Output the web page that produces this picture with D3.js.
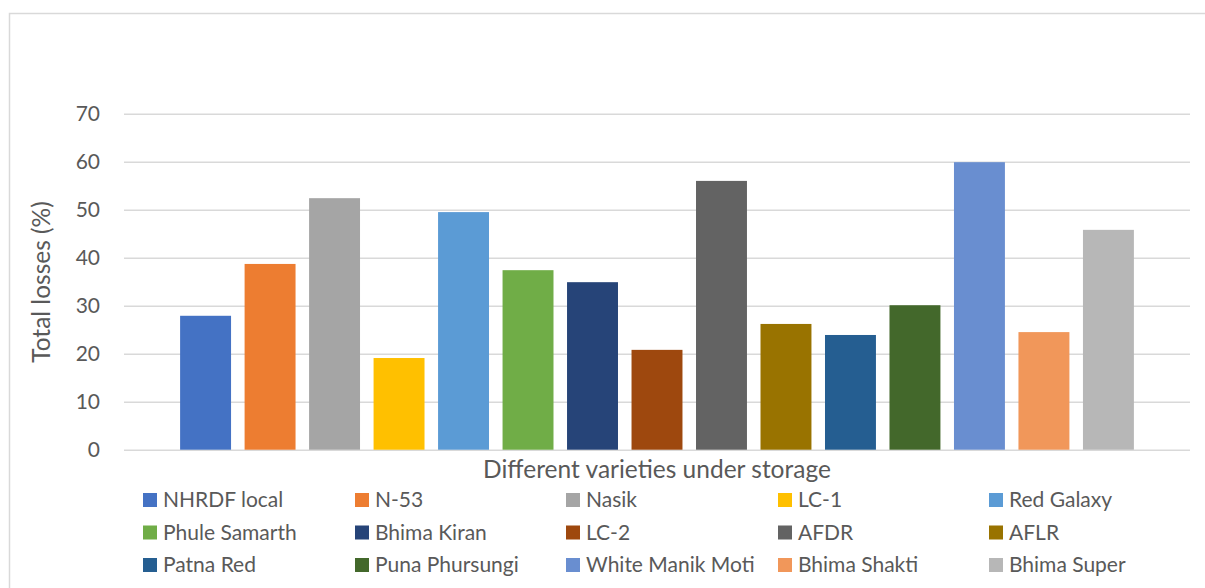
<!DOCTYPE html>
<html>
<head>
<meta charset="utf-8">
<script src="https://cdn.jsdelivr.net/npm/d3@7"></script>
<style>
  html, body { margin: 0; padding: 0; background: #fff; }
  text { font-family: Lato, "Open Sans", sans-serif; fill: #595959; }
</style>
</head>
<body>
<svg id="main-svg"></svg>
<script>
const varieties = ["NHRDF local", "N-53", "Nasik", "LC-1", "Red Galaxy",
  "Phule Samarth", "Bhima Kiran", "LC-2", "AFDR", "AFLR",
  "Patna Red", "Puna Phursungi", "White Manik Moti", "Bhima Shakti", "Bhima Super"];
const losses = [27.9, 38.7, 52.4, 19.1, 49.5, 37.4, 34.9, 20.8, 56.0, 26.2, 23.9, 30.1, 59.9, 24.5, 45.8];
const colors = ["#4472C4", "#ED7D31", "#A5A5A5", "#FFC000", "#5B9BD5",
  "#70AD47", "#264478", "#9E480E", "#636363", "#997300",
  "#255E91", "#43682B", "#698ED0", "#F1975A", "#B7B7B7"];
const yTicks = [0, 10, 20, 30, 40, 50, 60, 70];

let width = 1205, height = 588;
let plot = {left: 124, right: 1190, top: 113.7, bottom: 449.7};

let svg = d3.select('#main-svg').attr('width', width).attr('height', height);

// chart frame
svg.append('rect')
  .attr('x', 9.5).attr('y', 13.5)
  .attr('width', 1200).attr('height', 600)
  .attr('fill', 'none')
  .attr('stroke', '#d9d9d9')
  .attr('stroke-width', 1.5);

let x = d3.scaleBand()
  .domain(varieties)
  .range([plot.left, plot.right])
  .paddingInner(0.21)
  .paddingOuter(0.87);

let y = d3.scaleLinear()
  .domain([0, 70])
  .range([plot.bottom, plot.top]);

// gridlines + tick labels
let yAxis = d3.axisLeft(y)
  .tickValues(yTicks)
  .tickSize(-(plot.right - plot.left))
  .tickPadding(24);

let gy = svg.append('g')
  .attr('transform', `translate(${plot.left},0)`)
  .call(yAxis);
gy.select('.domain').remove();
gy.selectAll('.tick line')
  .attr('stroke', '#d9d9d9')
  .attr('stroke-width', 1.5);
gy.selectAll('.tick text')
  .attr('font-size', 21)
  .style('fill', '#595959')
  .style('font-family', 'Lato, sans-serif');

// bars
svg.append('g')
  .selectAll('rect')
  .data(varieties)
  .enter()
  .append('rect')
  .attr('x', d => x(d))
  .attr('y', (d, i) => y(losses[i]))
  .attr('width', x.bandwidth())
  .attr('height', (d, i) => y(0) - y(losses[i]))
  .attr('fill', (d, i) => colors[i]);

// axis titles
svg.append('text')
  .attr('x', 657)
  .attr('y', 478)
  .attr('text-anchor', 'middle')
  .attr('font-size', 24.5)
  .text('Different varieties under storage');

svg.append('text')
  .attr('transform', 'translate(50,282) rotate(-90)')
  .attr('text-anchor', 'middle')
  .attr('font-size', 24.5)
  .text('Total losses (%)');

// legend, 5 columns x 3 rows
let legendCols = [143, 355, 566, 778, 989];
let legendRows = [493, 525.5, 558];

let legend = svg.append('g')
  .selectAll('g')
  .data(varieties)
  .enter()
  .append('g')
  .attr('transform', (d, i) => `translate(${legendCols[i % 5]},${legendRows[Math.floor(i / 5)]})`);

legend.append('rect')
  .attr('width', 14)
  .attr('height', 14)
  .attr('fill', (d, i) => colors[i]);

legend.append('text')
  .attr('x', 20)
  .attr('y', 14)
  .attr('font-size', 21)
  .text(d => d);
</script>
</body>
</html>
